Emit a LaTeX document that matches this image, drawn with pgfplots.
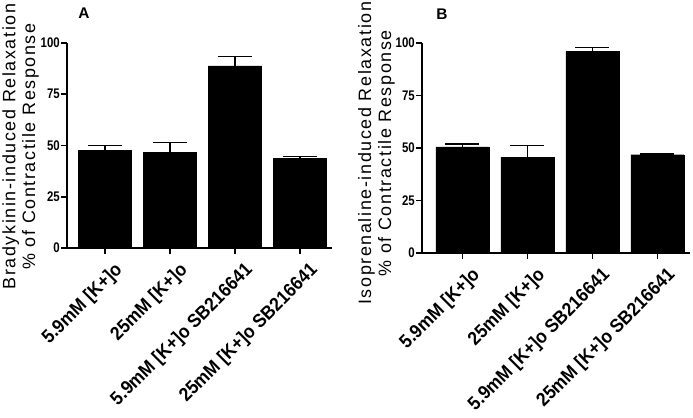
\documentclass[border=0pt]{standalone}
\usepackage{fontspec}
\setmainfont{Liberation Sans}
\usepackage{pgfplots}
\pgfplotsset{compat=1.18}

\pgfplotsset{
  prism/.style={
    scale only axis,
    axis x line*=bottom, axis y line*=left,
    axis line style={line width=1.6bp, -},
    ymin=0, ymax=100, ytick={0,25,50,75,100},
    xtick={0,1,2,3},
    xticklabels={5.9mM [K+]o, 25mM [K+]o, 5.9mM [K+]o SB216641, 25mM [K+]o SB216641},
    x tick label style={rotate=45, anchor=north east, inner sep=1bp, xshift=2bp, yshift=-10bp,
      font=\bfseries\fontsize{19}{19}\selectfont\addfontfeature{FakeStretch=0.92}},
    y tick label style={inner sep=1bp,
      font=\bfseries\fontsize{14}{14}\selectfont\addfontfeature{FakeStretch=0.82}},
    /pgf/number format/assume math mode=true,
    tick align=outside, major tick length=6bp,
    tick style={line width=1.6bp, black},
    ybar, bar width=53bp,
    ylabel style={align=center, anchor=center,
      font=\fontsize{18}{20}\selectfont\addfontfeature{LetterSpace=9}},
  },
  errs/.style={fill=black, draw=black,
    error bars/.cd, y dir=plus, y explicit,
    error bar style={line width=1.6bp},
    error mark options={rotate=90, line width=1.6bp, mark size=17bp}},
}

\begin{document}
\begin{tikzpicture}
\path[use as bounding box] (0,0) rectangle (693bp,-418bp);

\begin{axis}[prism,
  at={(67bp,-248bp)}, anchor=south west,
  width=265bp, height=205bp,
  xmin=-0.58, xmax=3.49,
  ylabel={Bradykinin-induced Relaxation\\\% of Contractile Response},
  ylabel style={at={(rel axis cs:-0.175,0.495)}},
]
\addplot[errs] coordinates {
  (0,47.5) +- (0,2.5)
  (1,46.7) +- (0,4.7)
  (2,88.9) +- (0,4.6)
  (3,43.6) +- (0,1.1)
};
\end{axis}
\node[font=\bfseries\fontsize{15.5}{15.5}\selectfont] at (84bp,-13bp) {A};

\begin{axis}[prism,
  at={(422bp,-253bp)}, anchor=south west,
  width=268bp, height=210bp,
  xmin=-0.62, xmax=3.5,
  ylabel={Isoprenaline-induced Relaxation\\\% of Contractile Response},
  ylabel style={at={(rel axis cs:-0.17,0.475)}},
]
\addplot[errs] coordinates {
  (0,50.5) +- (0,1.5)
  (1,45.6) +- (0,5.5)
  (2,95.9) +- (0,1.9)
  (3,46.8) +- (0,0.3)
};
\end{axis}
\node[font=\bfseries\fontsize{15.5}{15.5}\selectfont] at (442bp,-14bp) {B};
\end{tikzpicture}
\end{document}
